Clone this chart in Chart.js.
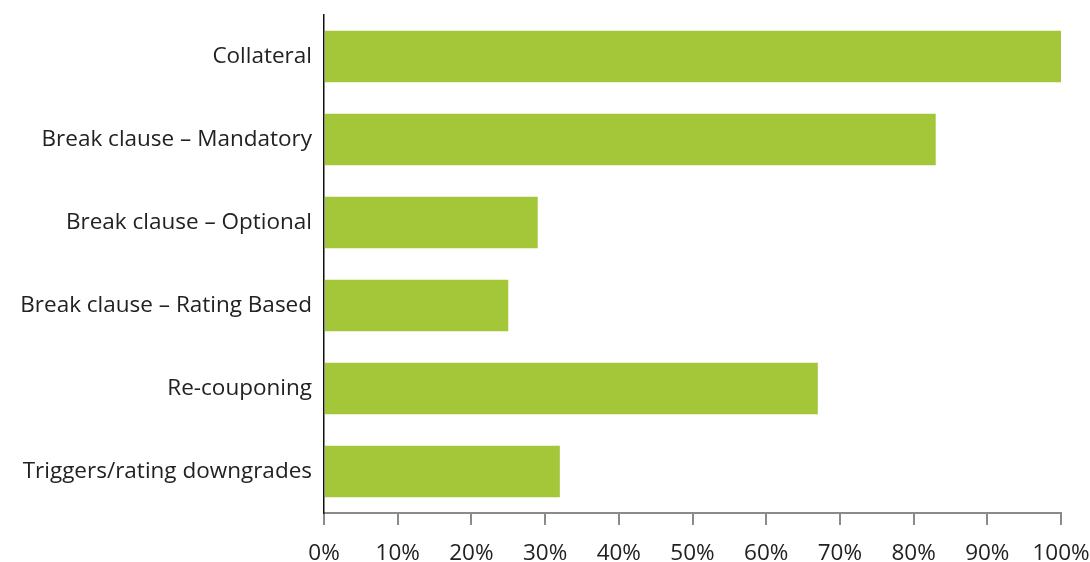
<!DOCTYPE html>
<html>
<head>
<meta charset="utf-8">
<script src="https://cdn.jsdelivr.net/npm/chart.js@4.4.0/dist/chart.umd.min.js"></script>
<style>
    html, body { margin: 0; padding: 0; background: #fff; }
    #wrap { width: 1090px; height: 562px; }
</style>
</head>
<body>
<div id="wrap"><canvas id="termsChart"></canvas></div>
<script>
const categories = [
    'Collateral',
    'Break clause \u2013 Mandatory',
    'Break clause \u2013 Optional',
    'Break clause \u2013 Rating Based',
    'Re-couponing',
    'Triggers/rating downgrades'
];
const shares = [100, 83, 29, 25, 67, 32];
const xTicks = [0, 10, 20, 30, 40, 50, 60, 70, 80, 90, 100];

const ctx = document.getElementById('termsChart').getContext('2d');

const chart = new Chart(ctx, {
    type: 'bar',
    data: {
        labels: categories,
        datasets: [{
            data: shares,
            backgroundColor: '#a4c639',
            borderWidth: 0,
            categoryPercentage: 1,
            barPercentage: 0.62
        }]
    },
    options: {
        indexAxis: 'y',
        responsive: true,
        maintainAspectRatio: false,
        animation: false,
        layout: {
            padding: { top: 15, right: 0, bottom: 0, left: 0 }
        },
        plugins: {
            legend: { display: false },
            tooltip: { enabled: false }
        },
        scales: {
            x: {
                min: 0,
                max: 100,
                afterBuildTicks: scale => {
                    scale.ticks = xTicks.map(v => ({ value: v }));
                },
                afterFit: scale => {
                    scale.height = 49;
                    // let the "100%" label run up to the canvas edge
                    scale.paddingRight = 29;
                },
                grid: {
                    drawOnChartArea: false,
                    drawTicks: true,
                    tickLength: 12,
                    color: '#8a8a8a',
                    lineWidth: 2
                },
                border: { display: true, color: '#8a8a8a', width: 2 },
                ticks: {
                    padding: 15,
                    color: '#222',
                    font: { family: 'Open Sans', size: 22.5 },
                    callback: v => v + '%'
                }
            },
            y: {
                afterFit: scale => {
                    scale.width = 324;
                    scale.paddingTop = 0;
                    scale.paddingBottom = 0;
                },
                grid: { display: false },
                border: { display: true, color: '#111', width: 1.5 },
                ticks: {
                    padding: 4,
                    color: '#222',
                    font: { family: 'Open Sans', size: 22.5 }
                }
            }
        }
    }
});
</script>
</body>
</html>
